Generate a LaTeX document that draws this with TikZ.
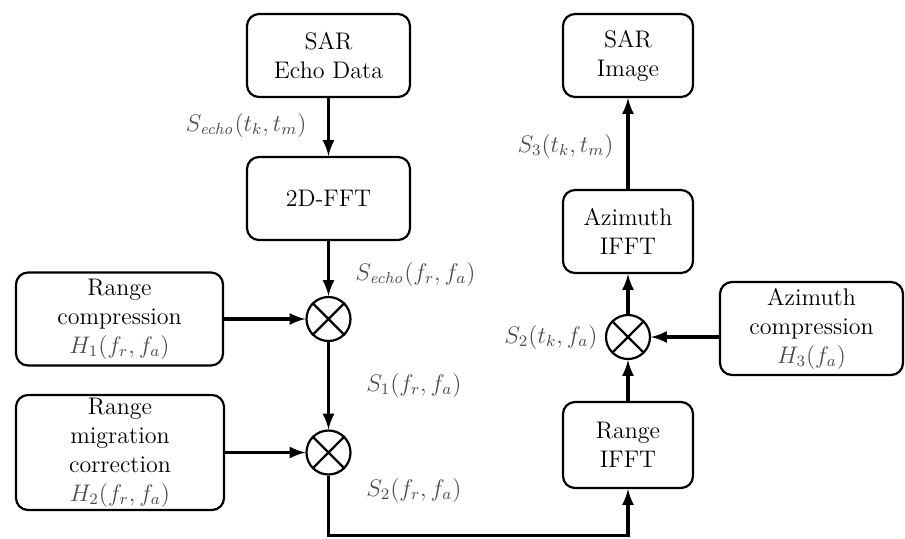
\documentclass[tikz,border=0pt]{standalone}
\usepackage{amsmath}
\usetikzlibrary{arrows}
\tikzset{
  block/.style={draw, line width=1.1pt, rounded corners=6pt, align=center, inner sep=1pt,
    font=\fontsize{12}{14.5}\selectfont},
  mult/.style={draw, line width=1.1pt, circle, minimum size=22pt, inner sep=0pt},
  sig/.style={text=black!70, inner sep=1pt, font=\fontsize{12}{14.5}\selectfont},
  flow/.style={line width=1.7pt, ->, >=latex}
}
\newcommand{\gr}[1]{\textcolor{black!70}{#1}}

\begin{document}
\begin{tikzpicture}[x=0.5pt, y=-0.5pt]
\useasboundingbox (0,0) rectangle (905,538);

% left column
\node[block, minimum width=81.5pt, minimum height=41.5pt] (echo) at (328.5,55.5) {SAR\\Echo Data};
\node[block, minimum width=81.5pt, minimum height=41.5pt] (fft) at (328.5,198.5) {2D-FFT};
\node[mult] (m1) at (328.5,319) {};
\node[mult] (m2) at (328.5,452.5) {};
\node[block, minimum width=103.5pt, minimum height=46.5pt] (rc) at (119.5,319)
  {Range\\compression\\\gr{$H_1(f_r,f_a)$}};
\node[block, minimum width=104pt, minimum height=57.5pt] (rmc) at (120,452.5)
  {Range\\migration\\correction\\\gr{$H_2(f_r,f_a)$}};

% right column
\node[block, minimum width=65pt, minimum height=43pt] (rifft) at (628,445) {Range\\IFFT};
\node[mult] (m3) at (628,337) {};
\node[block, minimum width=91.5pt, minimum height=46.5pt] (ac) at (811.5,328.5)
  {Azimuth\\compression\\\gr{$H_3(f_a)$}};
\node[block, minimum width=65pt, minimum height=41.5pt] (aifft) at (628,231.5) {Azimuth\\IFFT};
\node[block, minimum width=65pt, minimum height=41.5pt] (img) at (628,55.5) {SAR\\Image};

\coordinate (low) at (500,535.5);

\draw[line width=1.1pt] (m1.north west) -- (m1.south east) (m1.north east) -- (m1.south west);
\draw[line width=1.1pt] (m2.north west) -- (m2.south east) (m2.north east) -- (m2.south west);
\draw[line width=1.1pt] (m3.north west) -- (m3.south east) (m3.north east) -- (m3.south west);

\draw[flow] (echo) -- (fft);
\draw[flow] (fft) -- (m1);
\draw[flow] (rc) -- (m1);
\draw[flow] (m1) -- (m2);
\draw[flow] (rmc) -- (m2);
\draw[flow] (m2) |- (low) -| (rifft);
\draw[flow] (rifft) -- (m3);
\draw[flow] (ac.west |- m3) -- (m3);
\draw[flow] (m3) -- (aifft);
\draw[flow] (aifft) -- (img);

% signal labels
\node[sig, anchor=east] (s0) at (309,125) {$S_{\mathit{echo}}(t_k,t_m)$};
\node[sig, anchor=west] (s1) at (353,274) {$S_{\mathit{echo}}(f_r,f_a)$};
\node[sig, anchor=west] (s2) at (364,385) {$S_1(f_r,f_a)$};
\node[sig, anchor=west] (s3) at (364,490) {$S_2(f_r,f_a)$};
\node[sig, anchor=east] (s4) at (600,337) {$S_2(t_k,f_a)$};
\node[sig, anchor=east] (s5) at (616,146) {$S_3(t_k,t_m)$};
\end{tikzpicture}
\end{document}
